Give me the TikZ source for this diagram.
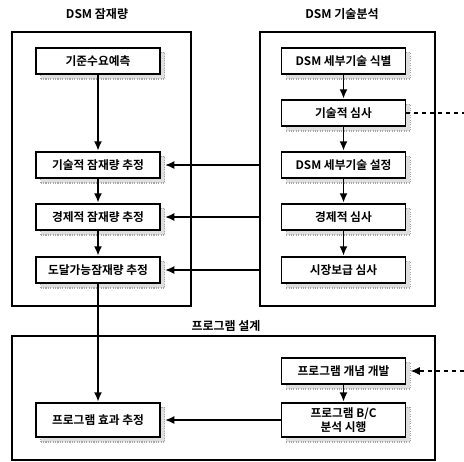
\documentclass[tikz,border=0pt]{standalone}
\usepackage{fontspec}
\setmainfont{Noto Sans CJK KR}[BoldFont={Noto Sans CJK KR Bold}]
\usetikzlibrary{arrows,arrows.meta,shadows}

\tikzset{
  blk/.style={draw, line width=1.4pt, fill=white, minimum width=93pt, minimum height=20pt,
    inner sep=1pt, align=center, font=\bfseries\fontsize{8.8}{11}\selectfont,
    general shadow={shadow xshift=3.5pt, shadow yshift=-3.5pt, fill=gray!25,
      draw=gray!70, densely dotted, line width=0.8pt}},
  grp/.style={draw, line width=1.1pt, inner sep=0pt},
  ttl/.style={font=\bfseries\fontsize{9}{11}\selectfont},
  link/.style={-{Latex[length=7pt,width=6pt]}, line width=1.4pt},
  hint/.style={-{Latex[length=7pt,width=6pt]}, dashed, line width=1.1pt}
}

\begin{document}
\begin{tikzpicture}[x=0.75pt,y=-0.75pt]
\useasboundingbox (0,0) rectangle (464,461);

% groups
\node[grp, minimum width=134.25pt, minimum height=205.5pt] (lgrp) at (101.5,169) {};
\node[grp, minimum width=131.25pt, minimum height=205.5pt] (rgrp) at (347.5,169) {};
\node[grp, minimum width=317.25pt, minimum height=93pt] (bgrp) at (223.5,398) {};

\node[ttl] (tpot) at (97,14) {DSM 잠재량};
\node[ttl] (ttec) at (342,14) {DSM 기술분석};
\node[ttl] (tprg) at (226,326) {프로그램 설계};

% DSM potential
\node[blk] (lbase) at (98,61) {기준수요예측};
\node[blk] (ltech) at (98,165) {기술적 잠재량 추정};
\node[blk] (lecon) at (98,217) {경제적 잠재량 추정};
\node[blk] (lreach) at (98,270) {도달가능잠재량 추정};
\node[blk, minimum height=26pt] (leff) at (98,420) {프로그램 효과 추정};

% DSM technology
\node[blk] (rident) at (343.5,61) {DSM 세부기술 식별};
\node[blk] (rtech) at (343.5,113) {기술적 심사};
\node[blk] (rset) at (343.5,165) {DSM 세부기술 설정};
\node[blk] (recon) at (343.5,217) {경제적 심사};
\node[blk] (rmkt) at (343.5,270) {시장보급 심사};

% program design
\node[blk] (pcon) at (343.5,371) {프로그램 개념 개발};
\node[blk, minimum height=26pt] (pbc) at (343.5,420) {프로그램 B/C\\분석 시행};

\coordinate (eout) at (464,113);
\coordinate (ein) at (464,371);

\draw[link] (lbase) -- (ltech);
\draw[link] (ltech) -- (lecon);
\draw[link] (lecon) -- (lreach);
\draw[link] (lreach) -- (leff);

\draw[link] (rident) -- (rtech);
\draw[link] (rtech) -- (rset);
\draw[link] (rset) -- (recon);
\draw[link] (recon) -- (rmkt);
\draw[link] (pcon) -- (pbc);

\draw[link] (rgrp.west |- ltech) -- ([xshift=3pt]ltech.east);
\draw[link] (rgrp.west |- lecon) -- ([xshift=3pt]lecon.east);
\draw[link] (rgrp.west |- lreach) -- ([xshift=3pt]lreach.east);
\draw[link] (pbc) -- ([xshift=3pt]leff.east);

\draw[dashed, line width=1.1pt] (rtech.east) -- (eout);
\draw[hint] (ein) -- ([xshift=3pt]pcon.east);
\end{tikzpicture}
\end{document}
